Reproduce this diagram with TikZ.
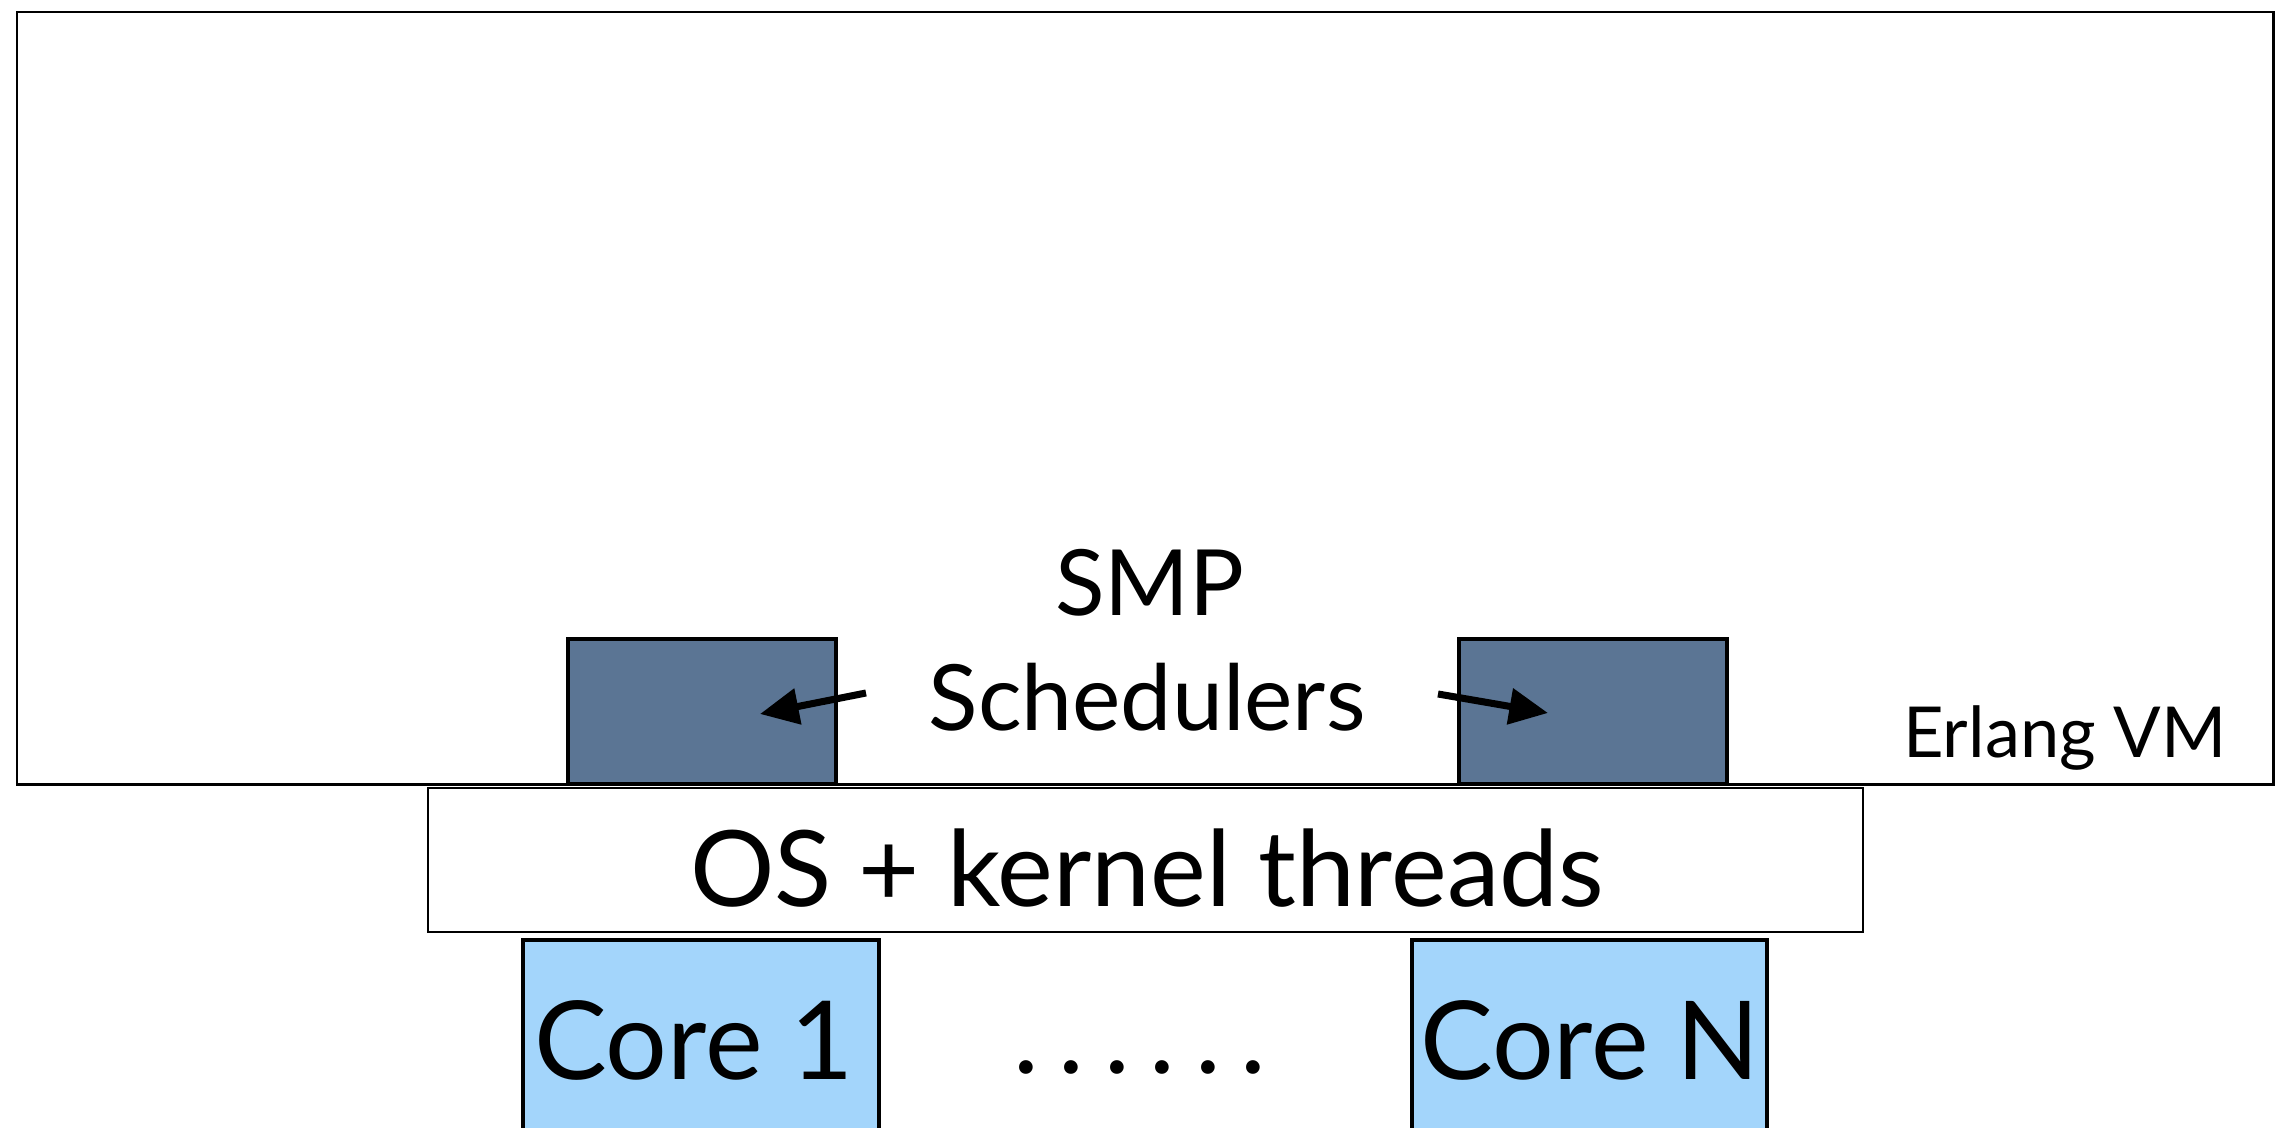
\documentclass[tikz,border=0pt]{standalone}
\usepackage{fontspec}
\setmainfont{Lato}
\usetikzlibrary{arrows.meta}
\definecolor{schedblue}{HTML}{5B7594}
\definecolor{coreblue}{HTML}{A3D5FB}
\tikzset{
  box/.style={draw=black, anchor=north west, inner sep=0pt, outer sep=0pt},
  vmbox/.style={box, line width=0.7pt, fill=white},
  schedbox/.style={box, line width=1.2pt, fill=schedblue},
  osbox/.style={box, line width=0.7pt, fill=white},
  corebox/.style={box, line width=1.2pt, fill=coreblue},
  arr/.style={line width=2pt, -{Triangle[length=11pt, width=10pt]}},
  lbl/.style={inner sep=0pt, text=black}
}
\begin{document}
\begin{tikzpicture}[x=0.01cm, y=-0.01cm]
\useasboundingbox (0,0) rectangle (2277,1128);
\begin{scope}
\clip (0,0) rectangle (2277,1128);
\node[vmbox, minimum width=22.55cm, minimum height=7.72cm] (vm) at (17,12) {};
\node[schedbox, minimum width=2.68cm, minimum height=1.45cm] (s1) at (568,639) {};
\node[schedbox, minimum width=2.68cm, minimum height=1.45cm] (s2) at (1459,639) {};
\node[osbox, minimum width=14.34cm, minimum height=1.44cm] (os) at (428,788) {};
\node[corebox, minimum width=3.56cm, minimum height=2.2cm] (c1) at (523,940) {};
\node[corebox, minimum width=3.55cm, minimum height=2.2cm] (cn) at (1412,940) {};
\end{scope}
\node[lbl, font=\fontsize{26}{30}\selectfont] (smp) at (1150,583) {SMP};
\node[lbl, font=\fontsize{26}{30}\selectfont] (sch) at (1147,697) {Schedulers};
\node[lbl, font=\fontsize{20}{24}\selectfont] (erl) at (2065,738) {Erlang VM};
\node[lbl, font=\fontsize{30}{36}\selectfont] (ostxt) at (1147,868) {OS + kernel threads};
\node[lbl, font=\fontsize{31}{36}\selectfont] (c1txt) at (694,1040) {Core 1};
\node[lbl, font=\fontsize{31}{36}\selectfont] (cntxt) at (1590,1040) {Core N};
\node[lbl, font=\fontsize{31}{36}\selectfont] (dots) at (1140,1067) {.\kern5.6pt.\kern5.6pt.\kern5.6pt.\kern5.6pt.\kern5.6pt.};
\coordinate (la0) at (866,693);
\coordinate (la1) at (760,714);
\coordinate (ra0) at (1438,694);
\coordinate (ra1) at (1548,713);
\draw[arr] (la0) -- (la1);
\draw[arr] (ra0) -- (ra1);
\end{tikzpicture}
\end{document}
